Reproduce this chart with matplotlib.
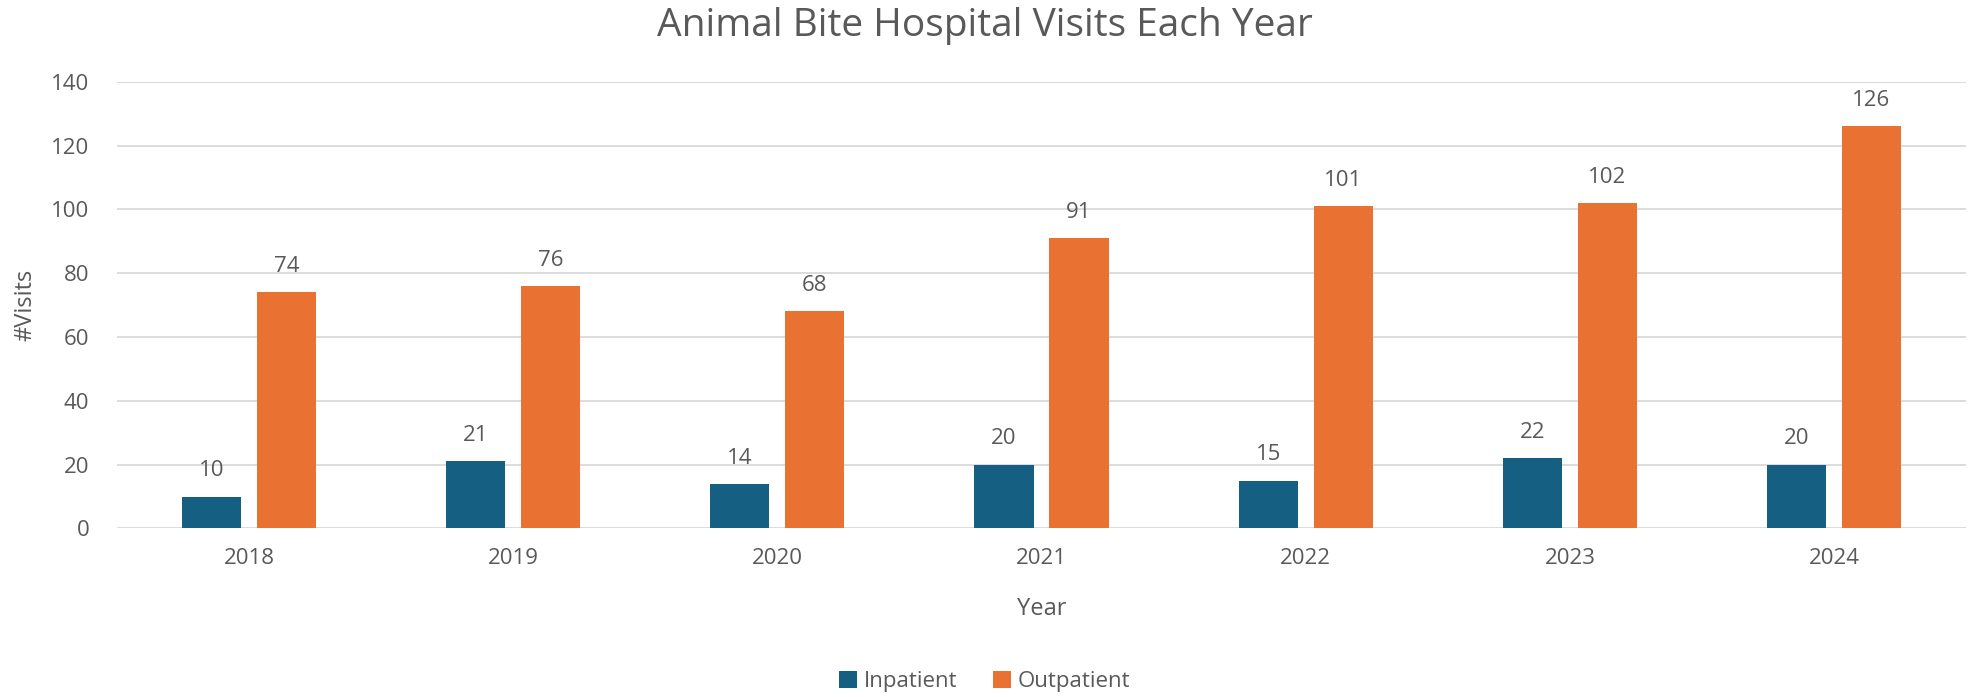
import numpy as np
import matplotlib
matplotlib.use("Agg")
import matplotlib.pyplot as plt

plt.rcParams['font.family'] = ['Open Sans', 'DejaVu Sans']

years = ['2018', '2019', '2020', '2021', '2022', '2023', '2024']
inpatient = [10, 21, 14, 20, 15, 22, 20]
outpatient = [74, 76, 68, 91, 101, 102, 126]

blue = '#156082'
orange = '#E97132'
grey = '#595959'

fig = plt.figure(figsize=(19.69, 6.97), dpi=100)
ax = fig.add_axes([0.0594, 0.2418, 0.9391, 0.641])

x = np.arange(len(years))
w = 0.224
off = 0.142
b1 = ax.bar(x - off, inpatient, w, color=blue, label='Inpatient', zorder=3)
b2 = ax.bar(x + off, outpatient, w, color=orange, label='Outpatient', zorder=3)

for bars in (b1, b2):
    for r in bars:
        ax.annotate(str(int(r.get_height())), (r.get_x() + r.get_width() / 2, r.get_height()),
                    xytext=(0, 11), textcoords='offset points', ha='center', va='bottom',
                    fontsize=16, color=grey)

ax.set_xlim(-0.5, len(years) - 0.5)
ax.set_ylim(0, 140)
ax.set_yticks(range(0, 141, 20))
ax.set_xticks(x)
ax.set_xticklabels(years)
ax.tick_params(length=0, labelsize=16, labelcolor=grey)
ax.tick_params(axis='x', pad=14)
ax.tick_params(axis='y', pad=20)
ax.grid(axis='y', color='#D9D9D9', linewidth=1.3, zorder=0)
for s in ax.spines.values():
    s.set_visible(False)

ax.set_ylabel('#Visits', fontsize=17, color=grey, labelpad=10)
ax.set_xlabel('Year', fontsize=17, color=grey, labelpad=20)
fig.suptitle('Animal Bite Hospital Visits Each Year', fontsize=28, color=grey, y=0.99, x=0.5)

fig.legend(handles=[b1, b2], loc='center', bbox_to_anchor=(0.5, 0.022), ncol=2, frameon=False,
           fontsize=16, labelcolor=grey, handlelength=0.8, handleheight=0.8, handletextpad=0.3,
           columnspacing=1.6)

fig.savefig('out.png', dpi=100)
